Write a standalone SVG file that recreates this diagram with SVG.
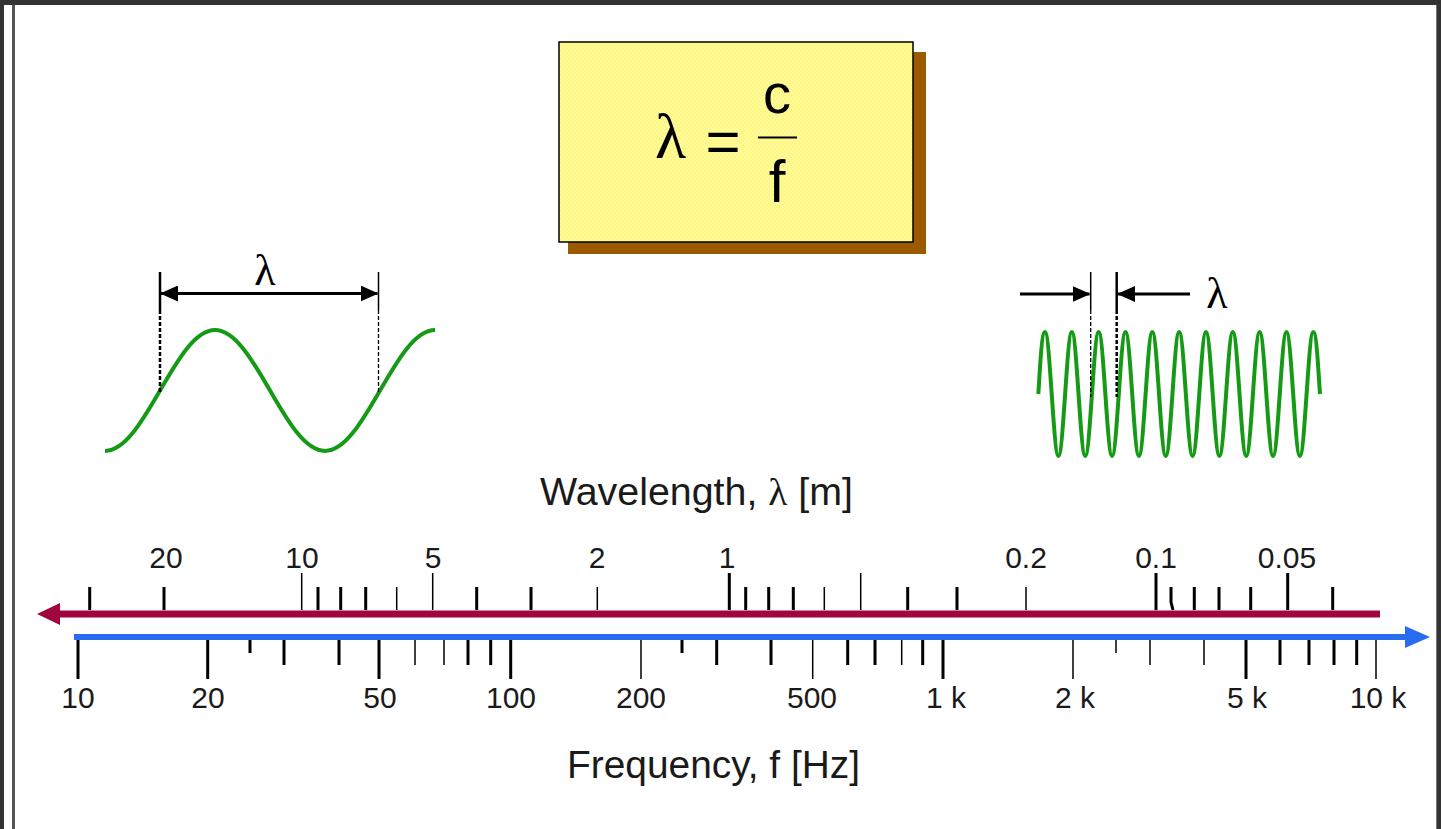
<svg xmlns="http://www.w3.org/2000/svg" width="1441" height="829" viewBox="0 0 1441 829">
<style>
.lbl{font-family:"Liberation Sans",Arial,sans-serif;font-size:30px;fill:#1a1a1a;text-anchor:middle}
.title{font-family:"Liberation Sans",Arial,sans-serif;font-size:38px;fill:#1a1a1a}
.greek{font-family:"Liberation Serif","Times New Roman",serif}
.tk{stroke:#000;stroke-width:3;fill:none}
.tn{stroke:#000;stroke-width:1.5;fill:none}
.wave{fill:none;stroke:#159a15;stroke-width:4;stroke-linejoin:round}
.dim{stroke:#000;stroke-width:3;fill:none}
</style>
<defs>
<pattern id="dither" width="4" height="4" patternUnits="userSpaceOnUse">
<rect width="4" height="4" fill="#fff883"/>
<rect x="0" y="0" width="1" height="1" fill="#fffde0"/>
<rect x="2" y="2" width="1" height="1" fill="#fffde0"/>
</pattern>
<marker id="ah" markerUnits="userSpaceOnUse" viewBox="0 0 18 16" markerWidth="18" markerHeight="16" refX="17" refY="8" orient="auto-start-reverse">
<path d="M0,0 L18,8 L0,16 z" fill="#000"/>
</marker>
<marker id="ahRed" markerUnits="userSpaceOnUse" viewBox="0 0 23 22" markerWidth="23" markerHeight="22" refX="10" refY="11" orient="auto">
<path d="M0,0 L23,11 L0,22 z" fill="#a0063c"/>
</marker>
<marker id="ahBlue" markerUnits="userSpaceOnUse" viewBox="0 0 25 22" markerWidth="25" markerHeight="22" refX="10" refY="11" orient="auto">
<path d="M0,0 L25,11 L0,22 z" fill="#2a6cf0"/>
</marker>
</defs>

<g id="frame">
<rect x="0" y="0" width="1441" height="829" fill="#333"/>
<rect x="4" y="5" width="1433" height="824" fill="#fff"/>
<line x1="13.5" y1="5" x2="13.5" y2="829" stroke="#555" stroke-width="3"/>
<line x1="1436.5" y1="5" x2="1436.5" y2="829" stroke="#777" stroke-width="1"/>
</g>

<g id="formula-box">
<rect x="568" y="52" width="358" height="202" fill="#9c5a00"/>
<rect x="559" y="42" width="354" height="200" fill="url(#dither)" stroke="#000" stroke-width="1.5"/>
<text x="655" y="158" class="greek" font-size="64" fill="#000">λ</text>
<text x="723" y="162" font-family="Liberation Sans,Arial,sans-serif" font-size="60" text-anchor="middle" fill="#000">=</text>
<text x="777" y="113" font-family="Liberation Sans,Arial,sans-serif" font-size="56" text-anchor="middle" fill="#000">c</text>
<line x1="758" y1="137.5" x2="797" y2="137.5" stroke="#000" stroke-width="2"/>
<text x="777" y="202" font-family="Liberation Sans,Arial,sans-serif" font-size="60" text-anchor="middle" fill="#000">f</text>
</g>

<g id="long-wave">
<path class="wave" d="M105,451 C145,451 175,330 215,330 C255,330 285,451 325,451 C365,451 395,330 435,330"/>
<line x1="160" y1="272" x2="160" y2="310" stroke="#000" stroke-width="2.5"/>
<line x1="160" y1="310" x2="160" y2="392" stroke="#000" stroke-width="2.5" stroke-dasharray="4,2"/>
<line x1="378.5" y1="272" x2="378.5" y2="310" stroke="#000" stroke-width="1.5"/>
<line x1="378.5" y1="310" x2="378.5" y2="392" stroke="#000" stroke-width="1.3" stroke-dasharray="4,2"/>
<text x="265" y="285" class="greek" font-size="44" text-anchor="middle" fill="#000">λ</text>
</g>

<g id="short-wave">
<path class="wave" stroke-width="3.5" d="M1038.3,394 C1039.8,373 1041.5,332 1045,332 C1049.89,332 1053.53,456 1058.42,456 C1063.31,456 1066.94,332 1071.83,332 C1076.72,332 1080.36,456 1085.25,456 C1090.14,456 1093.77,332 1098.66,332 C1103.55,332 1107.19,456 1112.08,456 C1116.97,456 1120.60,332 1125.49,332 C1130.38,332 1134.02,456 1138.91,456 C1143.80,456 1147.43,332 1152.32,332 C1157.21,332 1160.85,456 1165.74,456 C1170.63,456 1174.26,332 1179.15,332 C1184.04,332 1187.68,456 1192.57,456 C1197.46,456 1201.09,332 1205.98,332 C1210.87,332 1214.51,456 1219.40,456 C1224.29,456 1227.92,332 1232.81,332 C1237.70,332 1241.34,456 1246.23,456 C1251.12,456 1254.75,332 1259.64,332 C1264.53,332 1268.17,456 1273.06,456 C1277.95,456 1281.58,332 1286.47,332 C1291.36,332 1295.00,456 1299.89,456 C1304.78,456 1308.41,332 1313.30,332 C1316.5,332 1318.5,373 1320,394"/>
<line x1="1090.7" y1="272" x2="1090.7" y2="310" stroke="#000" stroke-width="1.5"/>
<line x1="1090.7" y1="310" x2="1090.7" y2="397" stroke="#000" stroke-width="1.3" stroke-dasharray="4,2"/>
<line x1="1116.7" y1="272" x2="1116.7" y2="310" stroke="#000" stroke-width="2.5"/>
<line x1="1116.7" y1="310" x2="1116.7" y2="397" stroke="#000" stroke-width="2.5" stroke-dasharray="4,2"/>
<text x="1217" y="308" class="greek" font-size="44" text-anchor="middle" fill="#000">λ</text>
</g>

<g id="wavelength-scale">
<text x="540" y="505" class="title" textLength="313" lengthAdjust="spacingAndGlyphs">Wavelength, <tspan class="greek">λ</tspan> [m]</text>
<path class="tk" d="M89.7,587V610 M164,587V610 M318,587V610 M340.7,587V610 M365.7,587V610 M476.7,587V610 M531,587V610 M745.7,587V610 M768.7,587V610 M793.3,587V610 M907.7,587V610 M957,587V610 M1194.3,587V610 M1219,587V610 M1250.7,587V610 M1332.7,587V610 M1171,587 V602 L1173,610 M729.3,573V610 M1156,573V610 M1287.7,573V610"/>
<path class="tn" d="M396.7,587V610 M597.3,587V610 M824.3,587V610 M1026,587V610 M301.7,573V610 M432.7,573V610 M860.7,573V610"/>
<text x="166" y="568" class="lbl">20</text>
<text x="302" y="568" class="lbl">10</text>
<text x="433" y="568" class="lbl">5</text>
<text x="597" y="568" class="lbl">2</text>
<text x="727" y="568" class="lbl">1</text>
<text x="1026" y="568" class="lbl">0.2</text>
<text x="1156" y="568" class="lbl">0.1</text>
<text x="1287" y="568" class="lbl">0.05</text>
</g>

<g id="frequency-scale">
<path class="tk" d="M78,640V679 M207.7,640V679 M379,640V679 M510.7,640V679 M943,640V679 M1246,640V679 M284,640V665 M339,640V665 M468,640V665 M490.7,640V665 M716.7,640V665 M771,640V665 M847.7,640V665 M875,640V665 M922.7,640V665 M1280,640V665 M1309,640V665 M1334,640V665 M1356.7,640V665 M250,640V653 M682,640V653"/>
<path class="tn" d="M641,640V679 M812.7,640V679 M1073,640V679 M1376,640V679 M415,640V665 M444,640V665 M901.7,640V665 M1150,640V665 M1204,640V665 M1116,640V653"/>
<text x="78" y="708" class="lbl">10</text>
<text x="208" y="708" class="lbl">20</text>
<text x="380" y="708" class="lbl">50</text>
<text x="511" y="708" class="lbl">100</text>
<text x="641" y="708" class="lbl">200</text>
<text x="812" y="708" class="lbl">500</text>
<text x="946" y="708" class="lbl">1 k</text>
<text x="1075" y="708" class="lbl">2 k</text>
<text x="1247" y="708" class="lbl">5 k</text>
<text x="1378" y="708" class="lbl">10 k</text>
<text x="567" y="778" class="title" textLength="293" lengthAdjust="spacingAndGlyphs">Frequency, f [Hz]</text>
</g>

<g id="connectors">
<path d="M1380,614 H50" stroke="#a0063c" stroke-width="7" fill="none" marker-end="url(#ahRed)"/>
<path d="M74,637 H1415" stroke="#2a6cf0" stroke-width="6" fill="none" marker-end="url(#ahBlue)"/>
<path class="dim" d="M161,293.5 H377.5" marker-start="url(#ah)" marker-end="url(#ah)"/>
<path class="dim" d="M1020,294 H1089.5" marker-end="url(#ah)"/>
<path class="dim" d="M1190,294 H1118" marker-end="url(#ah)"/>
</g>
</svg>
